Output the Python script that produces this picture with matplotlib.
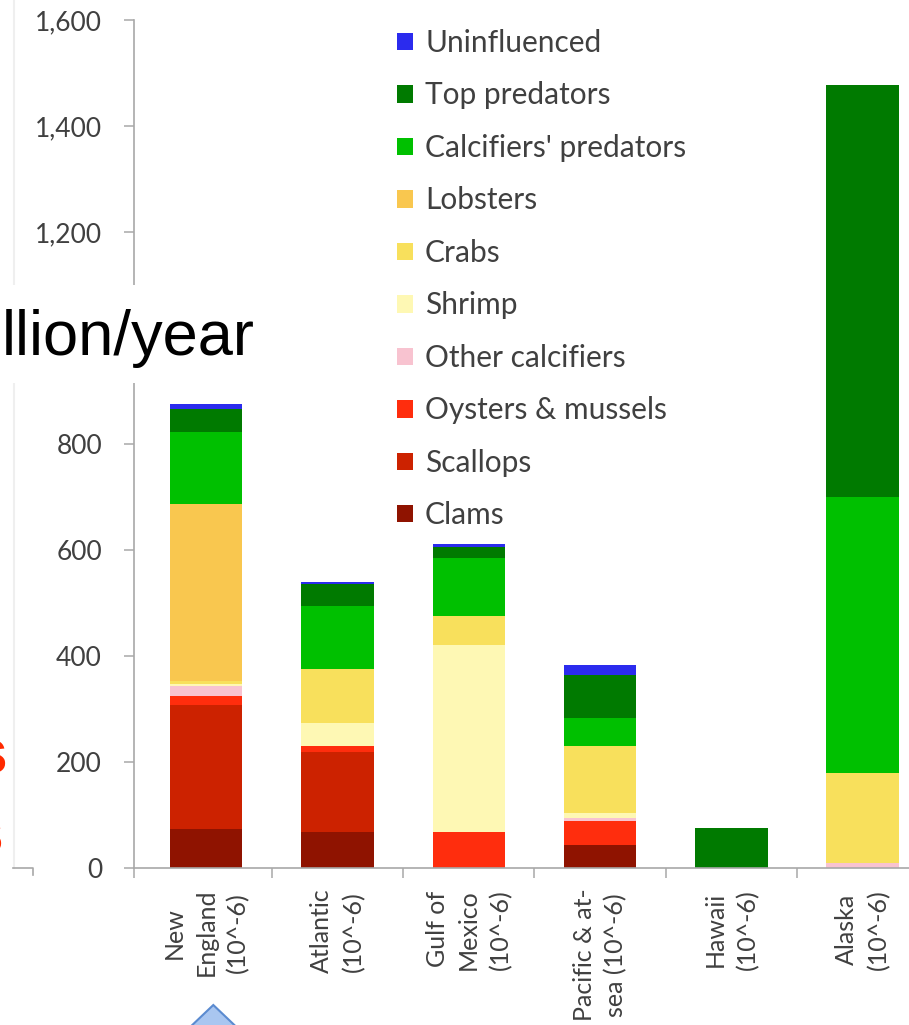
import matplotlib
matplotlib.use("Agg")
import matplotlib.pyplot as plt
from matplotlib.patches import Patch, Rectangle, Polygon
from matplotlib.lines import Line2D
from matplotlib.ticker import FuncFormatter, FixedLocator
import numpy as np

# Regions (x categories)
regions = ["New\nEngland\n(10^-6)", "Atlantic\n(10^-6)", "Gulf of\nMexico\n(10^-6)",
           "Pacific & at-\nsea (10^-6)", "Hawaii\n(10^-6)", "Alaska\n(10^-6)"]

# Stacked series, bottom to top
clams = [73, 68, 0, 43, 0, 0]
scallops = [235, 151, 0, 0, 0, 0]
oysters_mussels = [16, 11, 68, 45, 0, 0]
other_calcifiers = [20, 0, 0, 6, 0, 10]
shrimp = [4, 43, 352, 10, 0, 0]
crabs = [4, 103, 55, 126, 0, 170]
lobsters = [335, 0, 0, 0, 0, 0]
calcifiers_predators = [136, 118, 109, 53, 0, 520]
top_predators = [43, 41, 21, 81, 75, 778]
uninfluenced = [9, 4, 6, 19, 0, 0]

series_names = ["Clams", "Scallops", "Oysters & mussels", "Other calcifiers", "Shrimp",
                "Crabs", "Lobsters", "Calcifiers' predators", "Top predators", "Uninfluenced"]
series_values = [clams, scallops, oysters_mussels, other_calcifiers, shrimp,
                 crabs, lobsters, calcifiers_predators, top_predators, uninfluenced]
series_colors = ["#8F1300", "#CC2200", "#FF2D0D", "#F8C3D0", "#FEF8B4",
                 "#F8E05C", "#F9C74F", "#00C000", "#007A00", "#2B2BEE"]

y_ticks = [0, 200, 400, 600, 800, 1000, 1200, 1400, 1600]

W, H = 909, 1025
fig = plt.figure(figsize=(W / 100, H / 100), dpi=100)
fig.patch.set_facecolor("white")

def fx(px):
    return px / W

def fy(py):
    return 1 - py / H

unit = 131.3
x0_px = 206.2
left_px = 134
xl = (left_px - x0_px) / unit
ax = fig.add_axes([fx(left_px), fy(868), 6 * unit / W, (868 - 20) / H])
ax.set_xlim(xl, xl + 6)
ax.set_ylim(0, 1600)

x = np.arange(len(regions))
bottom = np.zeros(len(regions))
for name, vals, col in zip(series_names, series_values, series_colors):
    v = np.array(vals, dtype=float)
    ax.bar(x, v, width=0.552, bottom=bottom, color=col, label=name, linewidth=0)
    bottom += v

axis_col = "#A8A8A8"
text_col = "#404040"
for s in ["top", "right"]:
    ax.spines[s].set_visible(False)
for s in ["left", "bottom"]:
    ax.spines[s].set_color(axis_col)
    ax.spines[s].set_linewidth(1.2)

ax.yaxis.set_major_locator(FixedLocator(y_ticks))
ax.yaxis.set_major_formatter(FuncFormatter(lambda v, p: f"{int(v):,}"))
ax.tick_params(axis="y", direction="out", length=7, width=1.1, color=axis_col,
               pad=16, labelsize=19, labelcolor=text_col)
for lab in ax.get_yticklabels():
    lab.set_family("Lato")

ax.set_xticks(x)
ax.set_xticklabels(regions, rotation=90, ha="center", va="top", multialignment="center",
                   family="Lato", fontsize=18, color=text_col, linespacing=1.45)
ax.tick_params(axis="x", which="major", length=0, pad=15)
ax.set_xticks([xl, 0.5, 1.5, 2.5, 3.5, 4.5], minor=True)
ax.tick_params(axis="x", which="minor", direction="out", length=7, width=1.1, color=axis_col)

handles = [Patch(facecolor=c, edgecolor="none") for c in series_colors][::-1]
labels = series_names[::-1]
leg = fig.legend(handles, labels, loc="upper left", bbox_to_anchor=(fx(397), fy(29)),
                 bbox_transform=fig.transFigure, frameon=False, borderpad=0, borderaxespad=0,
                 handlelength=0.52, handleheight=0.52, handletextpad=0.42, labelspacing=0.82,
                 prop={"family": "Lato", "size": 21.5})
for t in leg.get_texts():
    t.set_color(text_col)

# Overlaid slide elements
fig.add_artist(Rectangle((0, fy(383)), fx(262), (383 - 285) / H, transform=fig.transFigure,
                         facecolor="white", edgecolor="none", zorder=5))
fig.text(fx(2), fy(355), "llion/year", fontsize=45.5, family="Liberation Sans", color="black",
         ha="left", va="baseline", zorder=6)
fig.text(fx(8), fy(773), "s", fontsize=45, family="Liberation Sans", fontweight="bold",
         color="#FF2A00", ha="right", va="baseline", zorder=6)
fig.text(fx(4), fy(853), "s", fontsize=45, family="Liberation Sans", fontweight="bold",
         color="#FF2A00", ha="right", va="baseline", zorder=6)
fig.add_artist(Line2D([fx(14), fx(14)], [fy(0), fy(868)], transform=fig.transFigure,
                      color="#EFEFEF", lw=1.5, zorder=1))
fig.add_artist(Line2D([fx(13), fx(33), fx(33)], [fy(868), fy(868), fy(875)],
                      transform=fig.transFigure, color=axis_col, lw=1.2, zorder=1))
fig.add_artist(Polygon([(fx(213.3), fy(1005)), (fx(166), fy(1050)), (fx(260.6), fy(1050))],
                       closed=True, transform=fig.transFigure, facecolor="#A9C6F0",
                       edgecolor="#5B8BD0", lw=1.5, zorder=6))

fig.savefig("out.png", dpi=100, facecolor="white")
